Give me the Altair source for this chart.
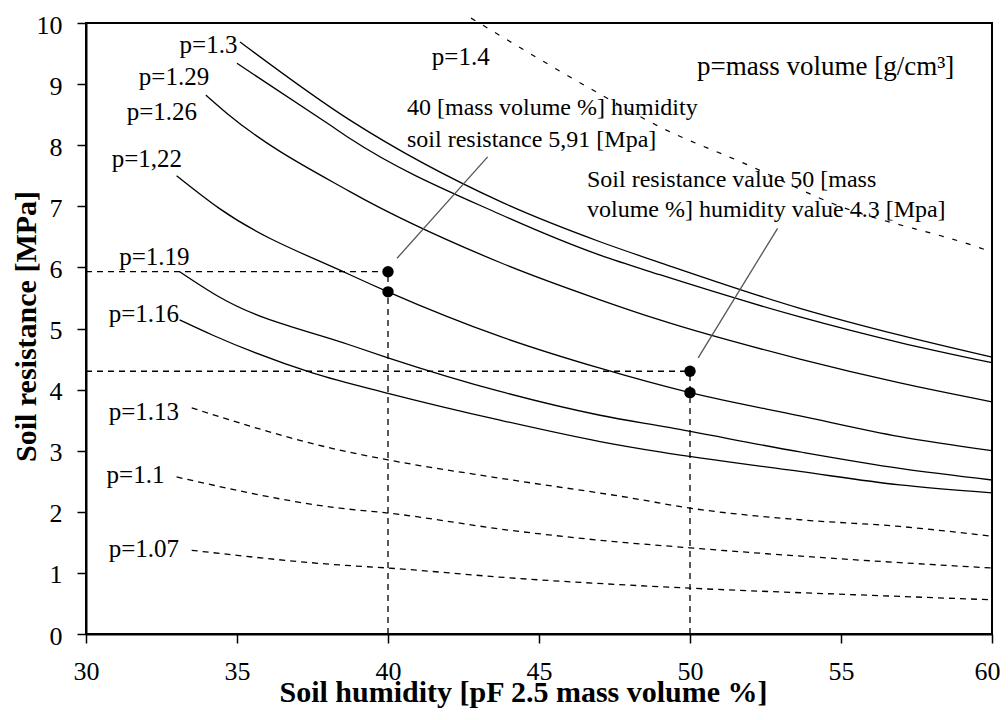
import altair as alt
import pandas as pd

# ---- data (x = soil humidity %, y = soil resistance MPa)
p130_x = [35.1, 38.74, 43.71, 47.02, 49.0, 53.64, 56.95, 60.0]
p130_y = [9.69, 8.41, 7.08, 6.42, 6.08, 5.33, 4.89, 4.53]
p129_x = [35.0, 38.08, 38.74, 43.71, 47.02, 49.0, 53.64, 56.95, 60.0]
p129_y = [9.34, 8.33, 8.11, 6.87, 6.20, 5.88, 5.19, 4.77, 4.44]
p126_x = [33.97, 34.67, 38.74, 43.71, 47.02, 49.0, 53.64, 56.95, 60.0]
p126_y = [8.82, 8.52, 7.24, 6.08, 5.47, 5.14, 4.50, 4.11, 3.80]
p122_x = [33.0, 34.4, 38.74, 40.0, 43.71, 47.02, 50.0, 53.64, 56.95, 60.0]
p122_y = [7.50, 6.97, 5.88, 5.60, 4.87, 4.35, 3.95, 3.57, 3.23, 3.00]
p119_x = [33.1, 34.4, 38.74, 40.0, 43.71, 47.02, 49.3, 53.64, 56.95, 60.0]
p119_y = [5.93, 5.52, 4.73, 4.52, 3.97, 3.58, 3.38, 2.98, 2.71, 2.52]
p116_x = [33.1, 34.2, 37.52, 40.0, 43.71, 47.02, 49.0, 53.64, 56.95, 60.0]
p116_y = [5.14, 4.89, 4.27, 3.94, 3.50, 3.15, 2.98, 2.66, 2.44, 2.31]
p113_x = [33.5, 38.4, 40.0, 43.71, 48.0, 50.0, 53.64, 56.95, 60.0]
p113_y = [3.70, 3.01, 2.85, 2.55, 2.23, 2.06, 1.87, 1.76, 1.60]
p110_x = [33.0, 38.4, 40.0, 44.0, 46.9, 50.0, 55.6, 60.0]
p110_y = [2.57, 2.06, 1.98, 1.70, 1.54, 1.41, 1.21, 1.08]
p107_x = [33.5, 38.4, 40.0, 44.0, 50.0, 55.6, 60.0]
p107_y = [1.37, 1.13, 1.08, 0.92, 0.75, 0.64, 0.56]
p140_x = [42.75, 46.9, 49.0, 51.9, 54.7, 59.6, 60.0]
p140_y = [10.08, 8.87, 8.30, 7.68, 7.05, 6.32, 6.25]

# marked points and their guide lines
mark_x = [40, 40, 50, 50]
mark_y = [5.93, 5.60, 4.30, 3.95]
guide_x = [40, 50]
guide_y = [5.93, 4.30]

# callout connector segments (from point to note)
conn_x1 = [40.3, 50.27]
conn_y1 = [6.15, 4.52]
conn_x2 = [43.3, 52.9]
conn_y2 = [7.81, 6.64]

# curve labels
plabel_text = ["p=1.3", "p=1.29", "p=1.26", "p=1,22", "p=1.19", "p=1.16",
               "p=1.13", "p=1.1", "p=1.07", "p=1.4"]
plabel_x = [33.1, 31.75, 31.35, 30.85, 31.1, 30.75, 30.75, 30.68, 30.75, 41.45]
plabel_y = [9.51, 8.99, 8.41, 7.64, 6.04, 5.11, 3.50, 2.47, 1.26, 9.31]

note_text = ["40 [mass volume %] humidity", "soil resistance 5,91 [Mpa]",
             "Soil resistance value 50 [mass", "volume %] humidity value 4.3 [Mpa]"]
note_x = [40.63, 40.63, 46.59, 46.59]
note_y = [8.49, 7.97, 7.32, 6.82]

key_text = ["p=mass volume [g/cm³]"]
key_x = [50.23]
key_y = [9.15]

# ---- build tables
def curve(name, xs, ys):
    return pd.DataFrame({"x": xs, "y": ys, "p": name})

solid = pd.concat([curve("1.3", p130_x, p130_y), curve("1.29", p129_x, p129_y),
                   curve("1.26", p126_x, p126_y), curve("1.22", p122_x, p122_y),
                   curve("1.19", p119_x, p119_y), curve("1.16", p116_x, p116_y)])
dashed = pd.concat([curve("1.13", p113_x, p113_y), curve("1.1", p110_x, p110_y),
                    curve("1.07", p107_x, p107_y)])
sparse = curve("1.4", p140_x, p140_y)

FONT = "Liberation Serif"
xs = alt.Scale(domain=[30, 60], nice=False, zero=False)
ys = alt.Scale(domain=[0, 10], nice=False)

X = alt.X("x:Q", scale=xs,
          axis=alt.Axis(values=[30, 35, 40, 45, 50, 55, 60], format="d",
                        labelAlign={"condition": {"test": "datum.value == 60", "value": "right"},
                                    "value": "center"},
                        labelOffset={"condition": {"test": "datum.value == 60", "value": 8},
                                     "value": 0},
                        title="Soil humidity [pF 2.5 mass volume %]",
                        titleX=437, titleY=67, titleBaseline="alphabetic"))
Y = alt.Y("y:Q", scale=ys,
          axis=alt.Axis(values=list(range(0, 11)), format="d", title="Soil resistance [MPa]",
                        titleX=-51, titleY=303, titleAngle=-90,
                        titleBaseline="alphabetic", titleAlign="center"))

solid_l = alt.Chart(solid).mark_line(color="black", strokeWidth=1.3, interpolate="monotone").encode(
    x=X, y=Y, detail="p:N")
dashed_l = alt.Chart(dashed).mark_line(color="black", strokeWidth=1.3, interpolate="monotone",
                                       strokeDash=[6, 5]).encode(x="x:Q", y="y:Q", detail="p:N")
sparse_l = alt.Chart(sparse).mark_line(color="black", strokeWidth=1.2, interpolate="monotone",
                                       strokeDash=[5, 9]).encode(x="x:Q", y="y:Q")

gdf = pd.DataFrame({"gx": guide_x, "gy": guide_y, "x0": [30, 30], "y0": [0, 0]})
hguide = alt.Chart(gdf).mark_rule(color="black", strokeWidth=1.3, strokeDash=[6, 5]).encode(
    x="x0:Q", x2="gx:Q", y="gy:Q")
vguide = alt.Chart(gdf).mark_rule(color="black", strokeWidth=1.3, strokeDash=[6, 5]).encode(
    x="gx:Q", y="y0:Q", y2="gy:Q")

cdf = pd.DataFrame({"x1": conn_x1, "y1": conn_y1, "x2": conn_x2, "y2": conn_y2})
conn = alt.Chart(cdf).mark_rule(color="#555555", strokeWidth=1.3).encode(
    x="x1:Q", y="y1:Q", x2="x2:Q", y2="y2:Q")

pts = alt.Chart(pd.DataFrame({"x": mark_x, "y": mark_y})).mark_circle(
    color="black", opacity=1, size=130).encode(x="x:Q", y="y:Q")

plab = alt.Chart(pd.DataFrame({"x": plabel_x, "y": plabel_y, "t": plabel_text})).mark_text(
    align="left", baseline="alphabetic", font=FONT, fontSize=25, color="black").encode(
    x="x:Q", y="y:Q", text="t:N")
notes = alt.Chart(pd.DataFrame({"x": note_x, "y": note_y, "t": note_text})).mark_text(
    align="left", baseline="alphabetic", font=FONT, fontSize=24, color="black").encode(
    x="x:Q", y="y:Q", text="t:N")
key = alt.Chart(pd.DataFrame({"x": key_x, "y": key_y, "t": key_text})).mark_text(
    align="left", baseline="alphabetic", font=FONT, fontSize=27, color="black").encode(
    x="x:Q", y="y:Q", text="t:N")

chart = alt.layer(solid_l, dashed_l, sparse_l, hguide, vguide, conn, pts, plab, notes, key).properties(
    width=906, height=611,
    autosize=alt.AutoSizeParams(type="none"),
    padding={"left": 78, "top": 15, "right": 8, "bottom": 74},
).configure_view(
    stroke="black", strokeWidth=2
).configure_axis(
    grid=False, domainColor="black", domainWidth=2, tickColor="black", tickWidth=1.5,
    tickSize=9, labelFont=FONT, labelFontSize=26, labelColor="black",
    titleFont=FONT, titleFontSize=30, titleFontWeight="bold", titleColor="black",
    labelFlush=False
).configure_axisY(
    labelPadding=15, labelOffset=2
).configure_axisX(
    labelPadding=15
)

chart.save("out.html", embed_options={"renderer": "svg", "actions": False})
